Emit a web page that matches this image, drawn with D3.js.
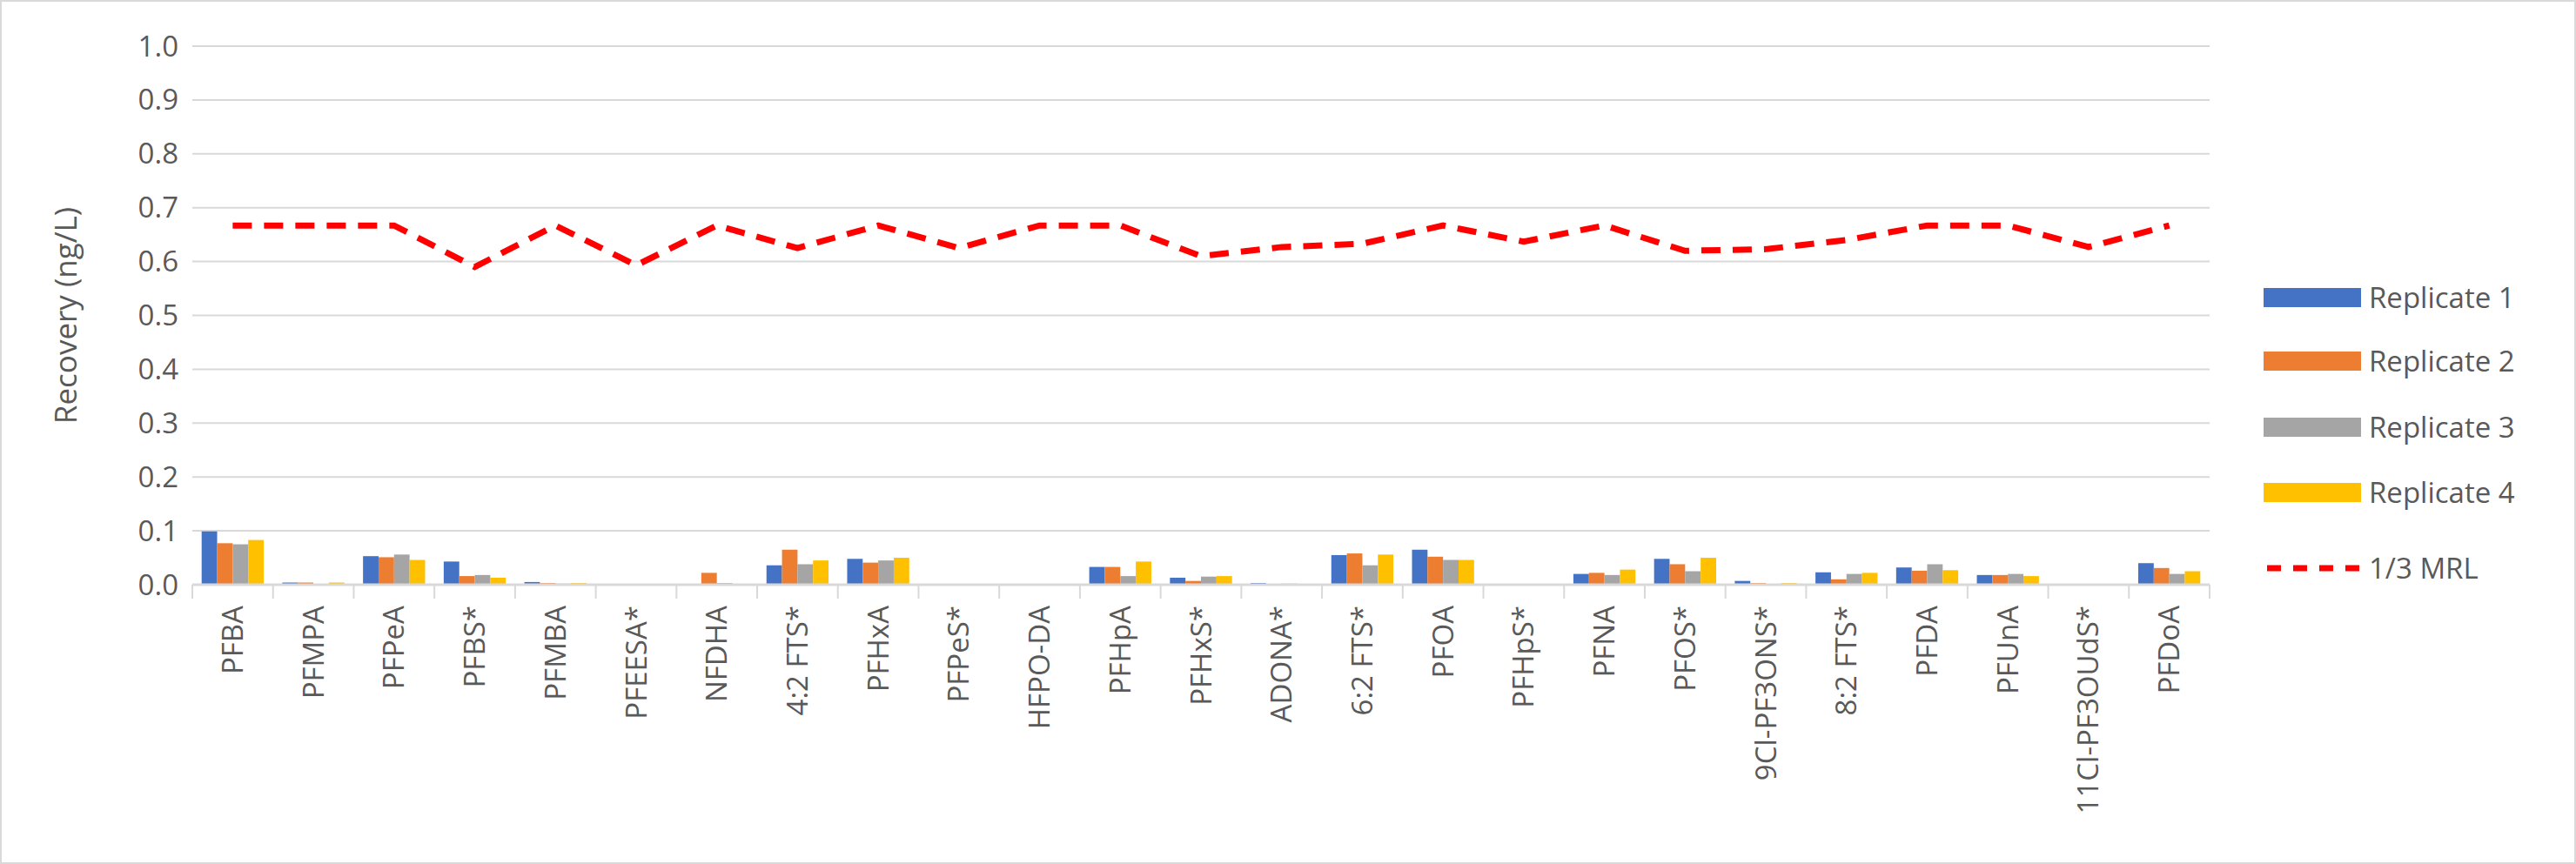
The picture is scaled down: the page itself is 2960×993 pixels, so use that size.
<!DOCTYPE html>
<html><head><meta charset="utf-8">
<script src="https://cdn.jsdelivr.net/npm/d3@7"></script>
<style>body{margin:0;background:#fff}svg{display:block}</style>
</head><body>
<script>
const categories=["PFBA","PFMPA","PFPeA","PFBS*","PFMBA","PFEESA*","NFDHA","4:2 FTS*","PFHxA","PFPeS*","HFPO-DA","PFHpA","PFHxS*","ADONA*","6:2 FTS*","PFOA","PFHpS*","PFNA","PFOS*","9Cl-PF3ONS*","8:2 FTS*","PFDA","PFUnA","11Cl-PF3OUdS*","PFDoA"];
const rep1=[0.099,0.004,0.053,0.043,0.005,0,0,0.036,0.048,0,0,0.033,0.013,0.003,0.055,0.065,0,0.020,0.048,0.007,0.023,0.032,0.018,0,0.040];
const rep2=[0.077,0.004,0.051,0.016,0.003,0,0.022,0.065,0.041,0,0,0.033,0.007,0,0.058,0.052,0,0.022,0.038,0.003,0.010,0.026,0.018,0,0.031];
const rep3=[0.075,0,0.056,0.018,0.002,0,0.003,0.038,0.045,0,0,0.016,0.015,0.002,0.036,0.046,0,0.018,0.025,0,0.020,0.038,0.020,0,0.020];
const rep4=[0.083,0.004,0.046,0.013,0.003,0,0,0.045,0.050,0,0,0.043,0.016,0,0.056,0.046,0,0.028,0.050,0.003,0.022,0.027,0.016,0,0.025];
const mrl=[0.667,0.667,0.667,0.590,0.667,0.593,0.667,0.625,0.667,0.625,0.667,0.667,0.610,0.627,0.633,0.667,0.637,0.667,0.620,0.623,0.640,0.667,0.667,0.627,0.667];
const seriesNames=["Replicate 1","Replicate 2","Replicate 3","Replicate 4"];
const yTicks=[0,0.1,0.2,0.3,0.4,0.5,0.6,0.7,0.8,0.9,1.0];
const colors=["#4472C4","#ED7D31","#A5A5A5","#FFC000"];
const series=[rep1,rep2,rep3,rep4];

const W=2960,H=993,L=221,R=2539,T=53,B=672;
const font="'Open Sans', sans-serif";
const fs=33;
const svg=d3.select("body").append("svg").attr("width",W).attr("height",H);
svg.append("rect").attr("x",1).attr("y",1).attr("width",W-2).attr("height",H-2).attr("fill","#fff").attr("stroke","#d9d9d9").attr("stroke-width",2);
const x=d3.scaleBand().domain(categories).range([L,R]);
const y=d3.scaleLinear().domain([0,1]).range([B,T]);
const g=svg.append("g");
g.selectAll("line.grid").data(yTicks.slice(1)).join("line").attr("x1",L).attr("x2",R)
 .attr("y1",d=>y(d)).attr("y2",d=>y(d)).attr("stroke","#d9d9d9").attr("stroke-width",2);
g.selectAll("text.yt").data(yTicks).join("text").attr("x",L-16).attr("y",d=>y(d)).attr("dy","0.35em")
 .attr("text-anchor","end").attr("font-family",font).attr("font-size",fs).attr("fill","#595959").text(d=>d.toFixed(1));
svg.append("text").attr("transform",`translate(88,${(T+B)/2}) rotate(-90)`).attr("text-anchor","middle")
 .attr("font-family",font).attr("font-size",35).attr("fill","#595959").text("Recovery (ng/L)");
const sub=d3.scaleBand().domain(d3.range(4)).range([0,x.bandwidth()]).paddingOuter(0.6);
series.forEach((s,i)=>{
 g.selectAll("rect.s"+i).data(s).join("rect").attr("x",(d,j)=>x(categories[j])+sub(i)).attr("width",sub.bandwidth())
  .attr("y",d=>y(d)).attr("height",d=>B-y(d)).attr("fill",colors[i]);
});
g.append("line").attr("x1",L).attr("x2",R).attr("y1",B).attr("y2",B).attr("stroke","#d9d9d9").attr("stroke-width",3);
g.selectAll("line.tk").data(categories.concat(["_end"])).join("line")
 .attr("x1",(d,i)=>L+i*x.step()).attr("x2",(d,i)=>L+i*x.step()).attr("y1",B).attr("y2",B+16).attr("stroke","#d9d9d9").attr("stroke-width",2);
g.selectAll("text.xt").data(categories).join("text")
 .attr("transform",d=>`translate(${x(d)+x.bandwidth()/2},${B+24}) rotate(-90)`).attr("dy","0.35em")
 .attr("text-anchor","end").attr("font-family",font).attr("font-size",fs).attr("fill","#595959").text(d=>d);
const line=d3.line().x((d,i)=>x(categories[i])+x.bandwidth()/2).y(d=>y(d));
g.append("path").attr("d",line(mrl)).attr("fill","none").attr("stroke","#FF0000").attr("stroke-width",7).attr("stroke-dasharray","22,14");
const lg=svg.append("g");
const ly=[342,415,491,566];
seriesNames.forEach((n,i)=>{
 lg.append("rect").attr("x",2601).attr("y",ly[i]-11).attr("width",112).attr("height",22).attr("fill",colors[i]);
 lg.append("text").attr("x",2722).attr("y",ly[i]).attr("dy","0.35em").attr("font-family",font).attr("font-size",fs).attr("fill","#595959").text(n);
});
lg.append("line").attr("x1",2605).attr("x2",2713).attr("y1",653).attr("y2",653).attr("stroke","#FF0000").attr("stroke-width",7).attr("stroke-dasharray","16,14");
lg.append("text").attr("x",2722).attr("y",653).attr("dy","0.35em").attr("font-family",font).attr("font-size",fs).attr("fill","#595959").text("1/3 MRL");
</script>
</body></html>
